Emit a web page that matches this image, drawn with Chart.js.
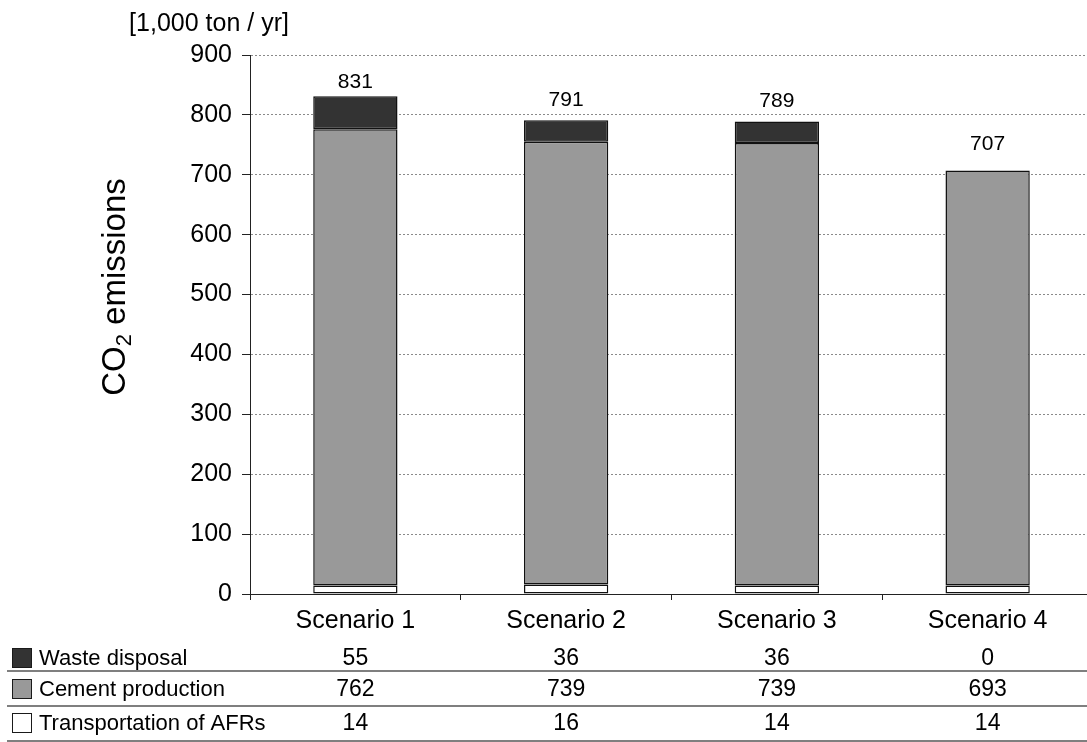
<!DOCTYPE html>
<html><head><meta charset="utf-8">
<script src="https://cdn.jsdelivr.net/npm/chart.js@4.4.0/dist/chart.umd.min.js"></script>
<style>
html,body{margin:0;padding:0;overflow:hidden;background:#fff;width:1087px;height:742px}
#wrap{position:absolute;left:0;top:0;width:1093px;height:742px}
</style>
</head><body><div id="wrap"><canvas id="c" width="1093" height="742"></canvas></div>
<script>
// ---- data ----
const categories = ['Scenario 1', 'Scenario 2', 'Scenario 3', 'Scenario 4'];
const wasteDisposal = [55, 36, 36, 0];
const cementProduction = [762, 739, 739, 693];
const transportationAFRs = [14, 16, 14, 14];
const seriesNames = ['Waste disposal', 'Cement production', 'Transportation of AFRs'];
const yTickValues = [0, 100, 200, 300, 400, 500, 600, 700, 800, 900];
const unitLabel = '[1,000 ton / yr]';
const yTitleMain = 'CO';
const yTitleSub = '2';
const yTitleRest = ' emissions';

// ---- styles ----
const FONT = '"Liberation Sans", Arial, Helvetica, sans-serif';
const colors = { waste: '#333333', cement: '#999999', transport: '#ffffff' };
const totalLabelGap = [4, 10, 10, 16];

const ds = (label, data, color) => ({
  label, data, backgroundColor: color, borderColor: '#111111', borderWidth: 1.5,
  borderSkipped: false, inflateAmount: 0, barPercentage: 0.40, categoryPercentage: 1.0, stack: 's'
});

const tablePlugin = {
  id: 'extras',
  afterDraw(chart) {
    const ctx = chart.ctx;
    const xs = chart.scales.x, ys = chart.scales.y;
    ctx.save();
    ctx.fillStyle = '#000';
    // unit label
    ctx.font = '25px ' + FONT;
    ctx.textAlign = 'center'; ctx.textBaseline = 'middle';
    ctx.fillText(unitLabel, 209, 24);
    // y title with subscript
    ctx.save();
    ctx.translate(113, 287);
    ctx.rotate(-Math.PI / 2);
    const big = '33px ' + FONT, small = '22px ' + FONT;
    ctx.font = big; const w1 = ctx.measureText(yTitleMain).width;
    ctx.font = small; const w2 = ctx.measureText(yTitleSub).width;
    ctx.font = big; const w3 = ctx.measureText(yTitleRest).width;
    let x0 = -(w1 + w2 + w3) / 2;
    ctx.textAlign = 'left'; ctx.textBaseline = 'alphabetic';
    ctx.font = big; ctx.fillText(yTitleMain, x0, 12);
    ctx.font = small; ctx.fillText(yTitleSub, x0 + w1, 18);
    ctx.font = big; ctx.fillText(yTitleRest, x0 + w1 + w2, 12);
    ctx.restore();
    // totals
    ctx.font = '21px ' + FONT;
    ctx.textAlign = 'center'; ctx.textBaseline = 'bottom';
    categories.forEach((c, i) => {
      const total = wasteDisposal[i] + cementProduction[i] + transportationAFRs[i];
      const x = xs.getPixelForValue(i);
      const y = ys.getPixelForValue(total) - totalLabelGap[i];
      ctx.fillText(String(total), x, y);
    });
    // data table
    const rows = [
      { name: seriesNames[0], vals: wasteDisposal, color: colors.waste },
      { name: seriesNames[1], vals: cementProduction, color: colors.cement },
      { name: seriesNames[2], vals: transportationAFRs, color: colors.transport }
    ];
    const rowCenters = [658, 689, 723];
    const rowLines = [671, 706, 741];
    rows.forEach((r, k) => {
      const cy = rowCenters[k];
      ctx.fillStyle = r.color;
      ctx.fillRect(12.5, cy - 9.5, 19, 19);
      ctx.strokeStyle = '#1a1a1a'; ctx.lineWidth = 1;
      ctx.strokeRect(12.5, cy - 9.5, 19, 19);
      ctx.fillStyle = '#000';
      ctx.font = '22px ' + FONT;
      ctx.textAlign = 'left'; ctx.textBaseline = 'middle';
      ctx.fillText(r.name, 39, cy + 1);
      ctx.font = '23px ' + FONT;
      ctx.textAlign = 'center';
      r.vals.forEach((v, i) => ctx.fillText(String(v), xs.getPixelForValue(i), cy + 1));
      ctx.strokeStyle = '#555'; ctx.lineWidth = 1.5;
      ctx.beginPath(); ctx.moveTo(7, rowLines[k]); ctx.lineTo(chart.width, rowLines[k]); ctx.stroke();
    });
    ctx.restore();
  }
};

new Chart(document.getElementById('c'), {
  type: 'bar',
  data: {
    labels: categories,
    datasets: [
      ds(seriesNames[2], transportationAFRs, colors.transport),
      ds(seriesNames[1], cementProduction, colors.cement),
      ds(seriesNames[0], wasteDisposal, colors.waste)
    ]
  },
  options: {
    responsive: false, animation: false, devicePixelRatio: 1,
    layout: { padding: { top: 55, left: 0, right: 0, bottom: 0 } },
    plugins: { legend: { display: false }, tooltip: { enabled: false } },
    scales: {
      x: {
        stacked: true,
        afterFit(s) { s.height = 148; },
        grid: { display: true, drawOnChartArea: false, drawTicks: true, tickLength: 6, tickColor: '#222', offset: true },
        border: { display: true, color: '#222', width: 1 },
        ticks: { color: '#000', font: { family: FONT, size: 25 }, padding: 6, maxRotation: 0 }
      },
      y: {
        stacked: true, min: 0, max: 900,
        afterFit(s) { s.width = 250; },
        afterBuildTicks(s) { s.ticks = yTickValues.map(v => ({ value: v })); },
        grid: {
          color: (c) => (c.tick && c.tick.value === 0) ? 'rgba(0,0,0,0)' : '#8a8a8a',
          lineWidth: 1, tickLength: 8, tickColor: '#222', tickBorderDash: []
        },
        border: { display: true, color: '#222', width: 1, dash: [2, 2] },
        ticks: { color: '#000', font: { family: FONT, size: 25 }, padding: 10 }
      }
    }
  },
  plugins: [tablePlugin]
});
</script>
</body></html>
